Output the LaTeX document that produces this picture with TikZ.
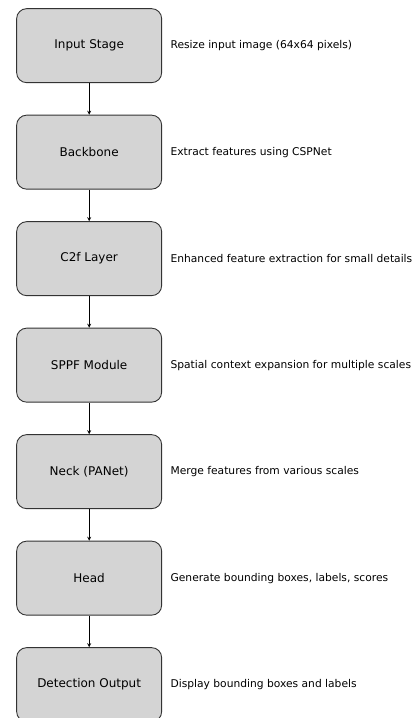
\documentclass[tikz,border=0pt]{standalone}
\usepackage{fontspec}
\setmainfont{DejaVu Sans}
\usetikzlibrary{matrix,shapes,arrows}

\begin{document}
\begin{tikzpicture}[x=1pt,y=1pt]
      \tikzstyle{stage} = [rectangle, rounded corners=10pt, draw=black!80, fill=black!17, line width=0.9pt,
                           minimum width=145pt, minimum height=74pt, inner sep=0pt, font=\fontsize{12}{14}\selectfont]
      \tikzstyle{note} = [anchor=west, inner sep=0pt, font=\fontsize{10.7}{13}\selectfont]
      \useasboundingbox (0,0) rectangle (417,-718);
      \matrix[matrix anchor=north west, inner sep=0pt, row sep = 31.6pt, column sep = 8.5pt] at (16,-8) {
        % stages and notes
        \node (input) [stage] {Input Stage};&
        \node (ninput) [note] {Resize input image (64x64 pixels)};\\
        \node (backbone) [stage] {Backbone};&
        \node (nbackbone) [note] {Extract features using CSPNet};\\
        \node (c2f) [stage] {C2f Layer};&
        \node (nc2f) [note] {Enhanced feature extraction for small details};\\
        \node (sppf) [stage] {SPPF Module};&
        \node (nsppf) [note] {Spatial context expansion for multiple scales};\\
        \node (neck) [stage] {Neck (PANet)};&
        \node (nneck) [note] {Merge features from various scales};\\
        \node (head) [stage] {Head};&
        \node (nhead) [note] {Generate bounding boxes, labels, scores};\\
        \node (output) [stage] {Detection Output};&
        \node (noutput) [note] {Display bounding boxes and labels};\\
      };
      \draw [line width=0.8pt,-stealth] (input)--(backbone);
      \draw [line width=0.8pt,-stealth] (backbone)--(c2f);
      \draw [line width=0.8pt,-stealth] (c2f)--(sppf);
      \draw [line width=0.8pt,-stealth] (sppf)--(neck);
      \draw [line width=0.8pt,-stealth] (neck)--(head);
      \draw [line width=0.8pt,-stealth] (head)--(output);
    \end{tikzpicture}
\end{document}
